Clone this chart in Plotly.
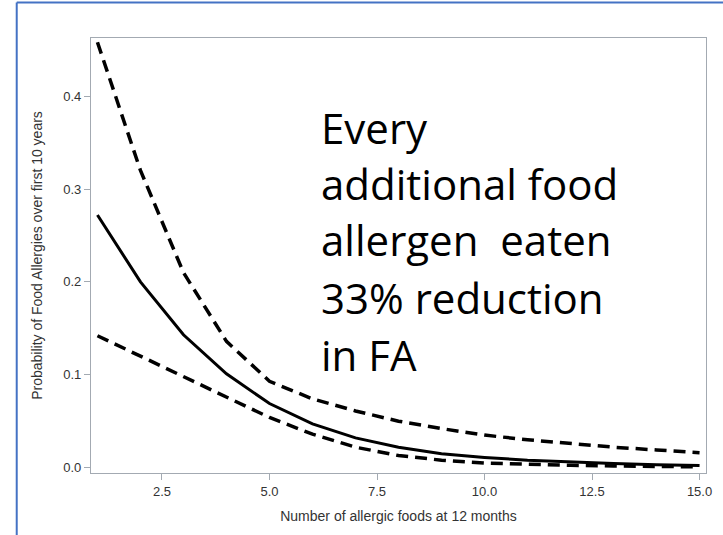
import plotly.graph_objects as go

# Number of allergenic foods eaten at 12 months
foods = list(range(1, 16))

# Estimated probability of food allergy over the first 10 years, with confidence limits
estimate = [0.272, 0.200, 0.143, 0.101, 0.069, 0.047, 0.032, 0.022, 0.015, 0.011,
            0.008, 0.0058, 0.0043, 0.0030, 0.0022]
upper_cl = [0.458, 0.320, 0.210, 0.136, 0.093, 0.074, 0.061, 0.050, 0.042, 0.035,
            0.030, 0.026, 0.022, 0.019, 0.016]
lower_cl = [0.142, 0.120, 0.097, 0.075, 0.054, 0.036, 0.022, 0.013, 0.008, 0.005,
            0.0035, 0.0025, 0.0018, 0.0012, 0.0008]

x_ticks = [2.5, 5.0, 7.5, 10.0, 12.5, 15.0]
y_ticks = [0.0, 0.1, 0.2, 0.3, 0.4]

callout_lines = ["Every", "additional food", "allergen\u00a0 eaten", "33% reduction", "in FA"]

W, H = 723, 535
L, R, T, B = 91, 11, 38, 62
plot_h = H - T - B
plot_w = W - L - R

fig = go.Figure()
fig.add_trace(go.Scatter(x=foods, y=upper_cl, mode="lines",
                         line=dict(color="black", width=3.5, dash="12px,7px"),
                         showlegend=False, hoverinfo="skip"))
fig.add_trace(go.Scatter(x=foods, y=lower_cl, mode="lines",
                         line=dict(color="black", width=3.5, dash="12px,7px"),
                         showlegend=False, hoverinfo="skip"))
fig.add_trace(go.Scatter(x=foods, y=estimate, mode="lines",
                         line=dict(color="black", width=3),
                         showlegend=False))

tick_font = dict(family="Liberation Sans, Arial, sans-serif", size=13, color="#333333")
title_font = dict(family="Liberation Sans, Arial, sans-serif", size=14, color="#333333")
frame = "#a3aab2"

fig.update_xaxes(range=[0.85, 15.15], tickvals=x_ticks, tickformat=".1f",
                 showgrid=False, zeroline=False, showline=True, linecolor=frame,
                 linewidth=1.2, mirror=True, ticks="outside", ticklen=6, tickcolor=frame,
                 tickfont=tick_font,
                 title=dict(text="Number of allergic foods at 12 months",
                            font=title_font, standoff=13))
fig.update_yaxes(range=[-0.0058, 0.4626], tickvals=y_ticks, tickformat=".1f",
                 showgrid=False, zeroline=False, showline=True, linecolor=frame,
                 linewidth=1.2, mirror=True, ticks="outside", ticklen=6, tickcolor=frame,
                 tickfont=tick_font,
                 title=dict(text="Probability of Food Allergies over first 10 years",
                            font=title_font, standoff=17))

# Callout text, one line per annotation (baselines in pixels from top)
baselines = [143, 199, 256, 313, 370]
for line, base in zip(callout_lines, baselines):
    yc = base - 16
    fig.add_annotation(text=line, xref="paper", yref="paper",
                       x=(321 - L) / plot_w, y=(H - B - yc) / plot_h,
                       xanchor="left", yanchor="middle", showarrow=False,
                       font=dict(family="Open Sans, sans-serif", size=42, color="black"))

# Slide frame: blue rule along the top and left edges
blue = "#4472c4"
x_left = (16 - L) / plot_w
y_top = (H - B - 2.5) / plot_h
fig.add_shape(type="line", xref="paper", yref="paper", x0=x_left, x1=(W - L) / plot_w + 0.01,
              y0=y_top, y1=y_top, line=dict(color=blue, width=2))
fig.add_shape(type="line", xref="paper", yref="paper", x0=x_left, x1=x_left,
              y0=y_top, y1=-(B + 5) / plot_h, line=dict(color=blue, width=2))

fig.update_layout(width=W, height=H, autosize=False,
                  margin=dict(l=L, r=R, t=T, b=B),
                  plot_bgcolor="white", paper_bgcolor="white")

fig.write_html("out.html")
